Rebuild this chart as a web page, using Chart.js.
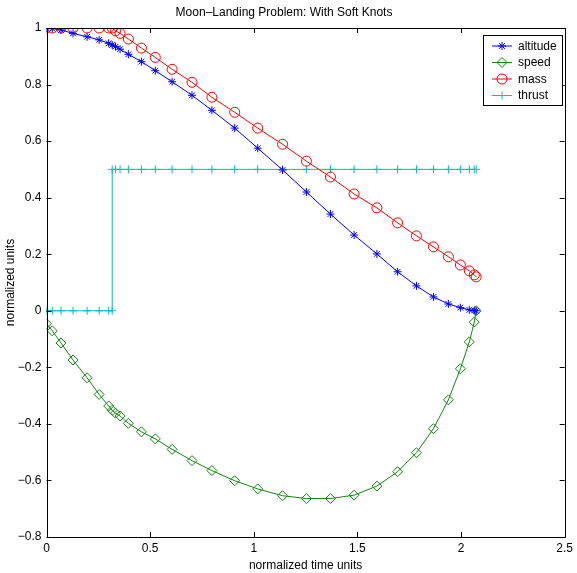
<!DOCTYPE html>
<html>
<head>
<meta charset="utf-8">
<script src="https://cdn.jsdelivr.net/npm/chart.js@4/dist/chart.umd.min.js"></script>
<style>
  html, body { margin: 0; padding: 0; background: #fff; }
  #wrap { width: 577px; height: 573px; }
</style>
</head>
<body>
<div id="wrap"><canvas id="moon"></canvas></div>
<script>
// knot times (normalized)
const time = [0, 0.028, 0.070, 0.128, 0.196, 0.254, 0.300, 0.317, 0.333, 0.355,
  0.395, 0.458, 0.525, 0.606, 0.702, 0.798, 0.908, 1.019, 1.139, 1.254,
  1.370, 1.484, 1.594, 1.694, 1.785, 1.867, 1.939, 1.997, 2.040, 2.064, 2.073];

const altitude = [1.0, 0.998, 0.993, 0.981, 0.969, 0.958, 0.946, 0.940, 0.934, 0.925,
  0.907, 0.881, 0.849, 0.810, 0.762, 0.709, 0.646, 0.575, 0.498, 0.420,
  0.342, 0.268, 0.201, 0.138, 0.088, 0.049, 0.024, 0.011, 0.003, 0.001, 0.0];

const speed = [-0.046, -0.071, -0.114, -0.174, -0.237, -0.296, -0.337, -0.352, -0.362, -0.372,
  -0.398, -0.428, -0.453, -0.490, -0.530, -0.565, -0.601, -0.630, -0.654, -0.664,
  -0.664, -0.652, -0.620, -0.569, -0.502, -0.417, -0.315, -0.205, -0.110, -0.040, 0.0];

const mass = [1.0, 1.0, 1.0, 1.0, 1.0, 1.0, 1.0, 1.0, 0.990, 0.981,
  0.961, 0.929, 0.896, 0.854, 0.808, 0.755, 0.702, 0.646, 0.589, 0.529,
  0.473, 0.413, 0.364, 0.311, 0.265, 0.226, 0.191, 0.162, 0.141, 0.127, 0.120];

// thrust switches on at t = 0.317 (knot repeated)
const thrustTime = [0, 0.028, 0.070, 0.128, 0.196, 0.254, 0.300, 0.317, 0.317, 0.333, 0.355,
  0.395, 0.458, 0.525, 0.606, 0.702, 0.798, 0.908, 1.019, 1.139, 1.254,
  1.370, 1.484, 1.594, 1.694, 1.785, 1.867, 1.939, 1.997, 2.040, 2.064, 2.073];
const thrust = [0, 0, 0, 0, 0, 0, 0, 0, 0.5, 0.5, 0.5,
  0.5, 0.5, 0.5, 0.5, 0.5, 0.5, 0.5, 0.5, 0.5, 0.5,
  0.5, 0.5, 0.5, 0.5, 0.5, 0.5, 0.5, 0.5, 0.5, 0.5, 0.5];

const xTicks = [0, 0.5, 1, 1.5, 2, 2.5];
const yTicks = [-0.8, -0.6, -0.4, -0.2, 0, 0.2, 0.4, 0.6, 0.8, 1];

const FONT = "'Liberation Sans', Arial, Helvetica, sans-serif";

function pts(xs, ys) {
  return xs.map((x, i) => ({ x: x, y: ys[i] }));
}

function series(label, xs, ys, color, style, r) {
  return {
    label: label,
    data: pts(xs, ys),
    showLine: true,
    borderColor: color,
    borderWidth: 1,
    pointStyle: style,
    pointRadius: r,
    pointHoverRadius: r,
    pointBorderColor: color,
    pointBackgroundColor: "rgba(0,0,0,0)",
    pointBorderWidth: 1,
    tension: 0
  };
}

function fmt(v) {
  const s = String(Math.round(v * 10) / 10);
  return s.replace("-", "\u2212");
}

// box, inward ticks and matlab-like legend
const frame = {
  id: "frame",
  afterDraw(chart) {
    const ctx = chart.ctx;
    const a = chart.chartArea;
    const sx = chart.scales.x, sy = chart.scales.y;
    ctx.save();
    ctx.strokeStyle = "#000";
    ctx.lineWidth = 1;
    ctx.strokeRect(Math.round(a.left) + 0.5, Math.round(a.top) + 0.5,
      Math.round(a.right - a.left), Math.round(a.bottom - a.top));
    ctx.beginPath();
    xTicks.forEach(v => {
      const px = Math.round(sx.getPixelForValue(v)) + 0.5;
      ctx.moveTo(px, a.bottom); ctx.lineTo(px, a.bottom - 5);
      ctx.moveTo(px, a.top); ctx.lineTo(px, a.top + 5);
    });
    yTicks.forEach(v => {
      const py = Math.round(sy.getPixelForValue(v)) + 0.5;
      ctx.moveTo(a.left, py); ctx.lineTo(a.left + 5, py);
      ctx.moveTo(a.right, py); ctx.lineTo(a.right - 5, py);
    });
    ctx.stroke();

    // legend
    const lx = 483.5, ly = 35.5, lw = 79, lh = 70;
    ctx.fillStyle = "#fff";
    ctx.fillRect(lx, ly, lw, lh);
    ctx.strokeRect(lx, ly, lw, lh);
    ctx.font = "12px " + FONT;
    ctx.textBaseline = "middle";
    chart.data.datasets.forEach((ds, i) => {
      const yy = 46 + i * 16.5;
      ctx.strokeStyle = ds.borderColor;
      ctx.beginPath();
      ctx.moveTo(492, yy); ctx.lineTo(512, yy);
      ctx.stroke();
      ctx.fillStyle = "rgba(0,0,0,0)";
      Chart.helpers.drawPoint(ctx, {
        pointStyle: ds.pointStyle, radius: ds.pointRadius, borderWidth: 1
      }, 502, yy);
      ctx.fillStyle = "#000";
      ctx.fillText(ds.label, 518, yy + 0.5);
    });
    ctx.restore();
  }
};

new Chart(document.getElementById("moon"), {
  type: "scatter",
  data: {
    datasets: [
      series("altitude", time, altitude, "#0000ff", "star", 4),
      series("speed", time, speed, "#118811", "rectRot", 5),
      series("mass", time, mass, "#ff0000", "circle", 5),
      series("thrust", thrustTime, thrust, "#00bfbf", "cross", 4)
    ]
  },
  options: {
    responsive: true,
    maintainAspectRatio: false,
    animation: false,
    layout: { padding: { left: 0, right: 9, top: 0, bottom: 0 } },
    plugins: {
      legend: { display: false },
      tooltip: { enabled: false },
      title: {
        display: true,
        text: "Moon\u2013Landing Problem: With Soft Knots",
        color: "#000",
        font: { family: FONT, size: 12, weight: "normal", lineHeight: 1.2 },
        padding: { top: 5, bottom: 8.6 }
      }
    },
    scales: {
      x: {
        type: "linear",
        min: 0, max: 2.5,
        afterFit: s => { s.height = 36; },
        afterBuildTicks: s => { s.ticks = xTicks.map(v => ({ value: v })); },
        grid: { display: false, drawTicks: false },
        border: { display: false },
        ticks: {
          color: "#000",
          font: { family: FONT, size: 12 },
          padding: 4,
          maxRotation: 0,
          callback: v => fmt(v)
        },
        title: {
          display: true,
          text: "normalized time units",
          color: "#000",
          font: { family: FONT, size: 12 },
          padding: { top: 0, bottom: 0 }
        }
      },
      y: {
        type: "linear",
        min: -0.8, max: 1,
        afterFit: s => { s.width = 46.5; },
        afterBuildTicks: s => { s.ticks = yTicks.map(v => ({ value: v })); },
        grid: { display: false, drawTicks: false },
        border: { display: false },
        ticks: {
          color: "#000",
          font: { family: FONT, size: 12 },
          padding: 5,
          callback: v => fmt(v)
        },
        title: {
          display: true,
          text: "normalized units",
          color: "#000",
          font: { family: FONT, size: 12 },
          padding: { top: 3, bottom: 2 }
        }
      }
    }
  },
  plugins: [frame]
});
</script>
</body>
</html>
